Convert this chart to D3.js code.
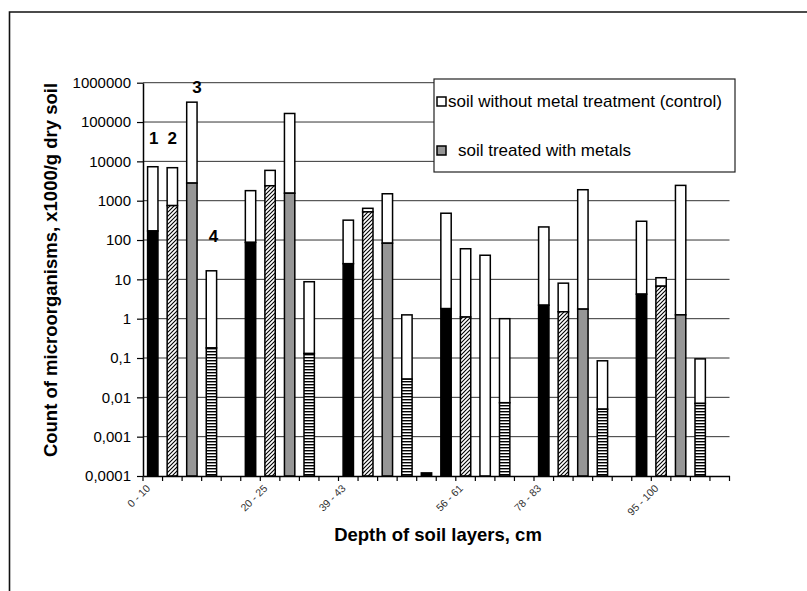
<!DOCTYPE html>
<html>
<head>
<meta charset="utf-8">
<script src="https://cdn.jsdelivr.net/npm/d3@7"></script>
<style>
    body { margin: 0; background: white; }
    text { font-family: 'Liberation Sans', Arial, sans-serif; }
</style>
</head>
<body>
<script>
const depthLabels = ['0 - 10', '', '', '', '', '', '20 - 25', '', '', '', '39 - 43', '', '', '', '', '',
        '56 - 61', '', '', '', '78 - 83', '', '', '', '', '', '95 - 100', '', '', ''],
    fills = ['black', 'hatch', 'gray', 'lines', null, 'black', 'hatch', 'gray', 'lines', null,
        'black', 'hatch', 'gray', 'lines', 'black', 'black', 'hatch', 'gray', 'lines', null,
        'black', 'hatch', 'gray', 'lines', null, 'black', 'hatch', 'gray', 'lines', null],
    treated = [170, 750, 2800, 0.18, null, 87, 2400, 1550, 0.13, null,
        25, 520, 83, 0.029, 0.00012, 1.8, 1.1, null, 0.0073, null,
        2.2, 1.5, 1.75, 0.005, null, 4.2, 6.7, 1.25, 0.007, null],
    control = [7300, 6900, 320000, 16.5, null, 1800, 5900, 165000, 8.7, null,
        320, 640, 1500, 1.25, null, 480, 60, 41, 1.0, null,
        215, 8, 1900, 0.085, null, 300, 11, 2450, 0.095, null],
    yTicks = [0.0001, 0.001, 0.01, 0.1, 1, 10, 100, 1000, 10000, 100000, 1000000],
    barNumbers = [
        { cat: 0, text: '1', dx: 1, dy: -23 },
        { cat: 1, text: '2', dx: 0, dy: -24 },
        { cat: 2, text: '3', dx: 5, dy: -9 },
        { cat: 3, text: '4', dx: 2, dy: -29 }
    ],
    legendItems = [
        { label: 'soil without metal treatment (control)', fill: 'white', gap: 2 },
        { label: 'soil treated with metals', fill: '#969696', gap: 12 }
    ];

const width = 807,
    height = 591,
    plot = { left: 143, right: 729.5, top: 82.7, bottom: 476 };

const svg = d3.select('body').append('svg')
    .attr('width', width)
    .attr('height', height);

const defs = svg.append('defs');

const hatch = defs.append('pattern')
    .attr('id', 'hatch')
    .attr('patternUnits', 'userSpaceOnUse')
    .attr('width', 4)
    .attr('height', 4);
hatch.append('rect').attr('width', 4).attr('height', 4).attr('fill', 'white');
hatch.append('path')
    .attr('d', 'M-1,1 l2,-2 M0,4 l4,-4 M3,5 l2,-2')
    .attr('stroke', 'black')
    .attr('stroke-width', 1.1);

const lines = defs.append('pattern')
    .attr('id', 'lines')
    .attr('patternUnits', 'userSpaceOnUse')
    .attr('width', 4)
    .attr('height', 3);
lines.append('rect').attr('width', 4).attr('height', 3).attr('fill', 'white');
lines.append('rect').attr('width', 4).attr('height', 1.4).attr('fill', 'black');

const fillColor = {
    black: 'black',
    hatch: 'url(#hatch)',
    gray: '#969696',
    lines: 'url(#lines)'
};

// outer frame (top and left edges only are visible)
svg.append('path')
    .attr('d', 'M9.5,' + height + ' V12 H' + width)
    .attr('fill', 'none')
    .attr('stroke', '#111')
    .attr('stroke-width', 1.6);

const x = d3.scaleBand()
    .domain(d3.range(depthLabels.length))
    .range([plot.left, plot.right])
    .paddingInner(0.47)
    .paddingOuter(0.235);

const y = d3.scaleLog()
    .domain([0.0001, 1000000])
    .range([plot.bottom, plot.top]);

const formatTick = d => d >= 1 ? String(d) : d.toFixed(Math.round(-Math.log10(d))).replace('.', ',');

// gridlines
svg.append('g')
    .selectAll('line')
    .data(yTicks.slice(1))
    .enter()
    .append('line')
    .attr('x1', plot.left)
    .attr('x2', plot.right)
    .attr('y1', d => y(d))
    .attr('y2', d => y(d))
    .attr('stroke', '#333')
    .attr('stroke-width', 1);

// bars
const bars = svg.append('g').selectAll('g')
    .data(d3.range(depthLabels.length).filter(i => treated[i] != null || control[i] != null))
    .enter()
    .append('g');

bars.filter(i => control[i] != null)
    .append('rect')
    .attr('x', i => x(i))
    .attr('width', x.bandwidth())
    .attr('y', i => y(control[i]))
    .attr('height', i => y(treated[i] != null ? treated[i] : 0.0001) - y(control[i]))
    .attr('fill', 'white')
    .attr('stroke', 'black')
    .attr('stroke-width', 1.5);

bars.filter(i => treated[i] != null)
    .append('rect')
    .attr('x', i => x(i))
    .attr('width', x.bandwidth())
    .attr('y', i => y(treated[i]))
    .attr('height', i => y(0.0001) - y(treated[i]))
    .attr('fill', i => fillColor[fills[i]])
    .attr('stroke', 'black')
    .attr('stroke-width', 1.5);

// y axis
const yAxis = svg.append('g')
    .attr('transform', 'translate(' + plot.left + ',0)')
    .call(d3.axisLeft(y).tickValues(yTicks).tickFormat(formatTick).tickSize(6).tickSizeOuter(0).tickPadding(6));

yAxis.select('.domain').attr('stroke', 'black').attr('stroke-width', 1.5);
yAxis.selectAll('.tick line').attr('stroke', 'black').attr('stroke-width', 1.2);
yAxis.selectAll('.tick text')
    .attr('font-family', "'Liberation Sans', Arial, sans-serif")
    .attr('font-size', 15)
    .attr('fill', 'black');

// x axis
const xAxis = svg.append('g')
    .attr('transform', 'translate(0,' + plot.bottom + ')')
    .call(d3.axisBottom(x).tickFormat(i => depthLabels[i]).tickSize(0).tickSizeOuter(0).tickPadding(0));

xAxis.select('.domain').attr('stroke', 'black').attr('stroke-width', 1.5);
xAxis.selectAll('.tick text')
    .attr('font-family', "'Liberation Sans', Arial, sans-serif")
    .attr('font-size', 10.5)
    .attr('fill', '#333')
    .attr('text-anchor', 'end')
    .attr('dy', 0)
    .attr('transform', 'translate(-2,13) rotate(-45)');

xAxis.append('g')
    .selectAll('line')
    .data(d3.range(depthLabels.length + 1))
    .enter()
    .append('line')
    .attr('x1', i => plot.left + i * x.step())
    .attr('x2', i => plot.left + i * x.step())
    .attr('y1', 0)
    .attr('y2', 5)
    .attr('stroke', 'black')
    .attr('stroke-width', 1.2);

// numbers over the first group
svg.append('g')
    .selectAll('text')
    .data(barNumbers)
    .enter()
    .append('text')
    .text(d => d.text)
    .attr('x', d => x(d.cat) + x.bandwidth() / 2 + d.dx)
    .attr('y', d => y(control[d.cat]) + d.dy)
    .attr('text-anchor', 'middle')
    .attr('font-weight', 'bold')
    .attr('font-size', 17);

// axis titles
svg.append('text')
    .text('Count of microorganisms, x1000/g dry soil')
    .attr('transform', 'translate(57,270) rotate(-90)')
    .attr('text-anchor', 'middle')
    .attr('font-weight', 'bold')
    .attr('font-size', 18.5);

svg.append('text')
    .text('Depth of soil layers, cm')
    .attr('x', 438)
    .attr('y', 541)
    .attr('text-anchor', 'middle')
    .attr('font-weight', 'bold')
    .attr('font-size', 18.5);

// legend
const legend = svg.append('g').attr('transform', 'translate(434,79)');

legend.append('rect')
    .attr('width', 301)
    .attr('height', 93)
    .attr('fill', 'white')
    .attr('stroke', '#222')
    .attr('stroke-width', 1.2);

const legendRows = legend.selectAll('g')
    .data(legendItems)
    .enter()
    .append('g')
    .attr('transform', (d, i) => 'translate(3,' + (18 + i * 49) + ')');

legendRows.append('rect')
    .attr('width', 9)
    .attr('height', 9)
    .attr('fill', d => d.fill)
    .attr('stroke', 'black')
    .attr('stroke-width', 1.5);

legendRows.append('text')
    .text(d => d.label)
    .attr('x', d => 9 + d.gap)
    .attr('y', 10)
    .attr('font-size', 17)
    .attr('fill', 'black');
</script>
</body>
</html>
